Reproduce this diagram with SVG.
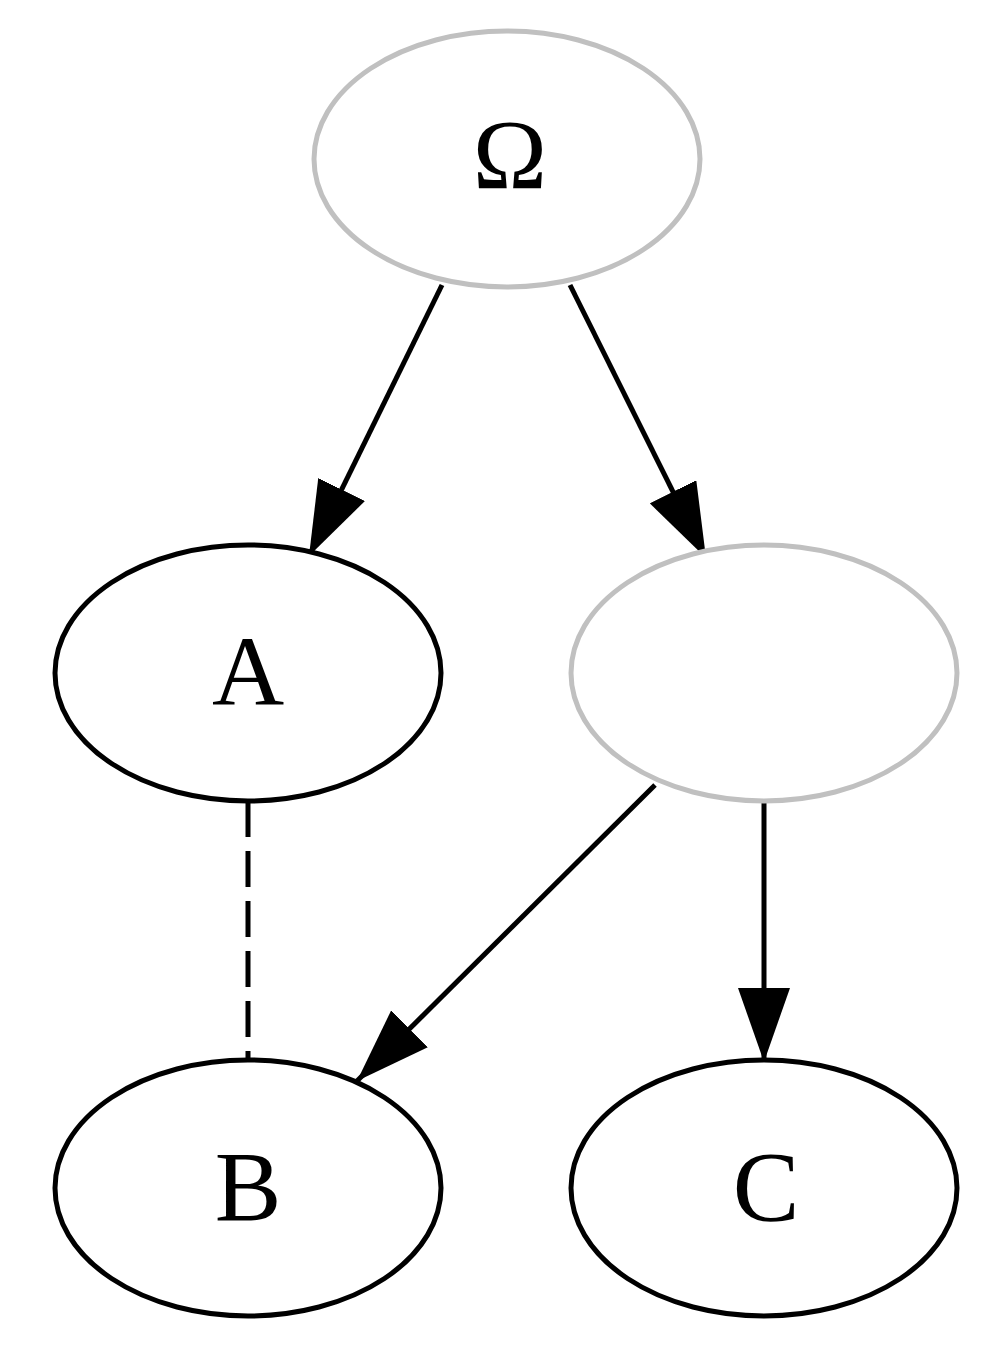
<svg xmlns="http://www.w3.org/2000/svg" width="1000" height="1361" viewBox="0 0 1000 1361">
<style>
.node ellipse{fill:#fff;stroke:#000;stroke-width:5}
.node.ghost ellipse{stroke:#c0c0c0}
.node text{font-family:"Liberation Serif","Times New Roman",serif;font-size:100px;text-anchor:middle;fill:#000}
.edge{stroke:#000;stroke-width:5;fill:none}
.arrow{marker-end:url(#ah)}
.dashed{stroke-dasharray:36 14}
</style>
<defs>
<marker id="ah" viewBox="0 0 74 52" refX="74" refY="26" markerWidth="74" markerHeight="52" markerUnits="userSpaceOnUse" orient="auto">
<path d="M0,0 L74,26 L0,52 Z" fill="#000"/>
</marker>
</defs>
<rect width="1000" height="1361" fill="#fff"/>
<g id="connectors">
<line class="edge arrow" x1="442" y1="285" x2="309" y2="556"/>
<line class="edge arrow" x1="570" y1="285" x2="706" y2="558"/>
<line class="edge arrow" x1="655" y1="785" x2="357" y2="1081"/>
<line class="edge arrow" x1="764" y1="803" x2="764" y2="1062"/>
<line class="edge dashed" x1="248" y1="801" x2="248" y2="1060"/>
</g>
<g id="omega" class="node ghost"><ellipse cx="507" cy="159" rx="193" ry="128"/><text x="510" y="188">Ω</text></g>
<g id="A" class="node"><ellipse cx="248" cy="673" rx="193" ry="128"/><text x="248" y="705">A</text></g>
<g id="hidden" class="node ghost"><ellipse cx="764" cy="673" rx="193" ry="128"/></g>
<g id="B" class="node"><ellipse cx="248" cy="1188" rx="193" ry="128"/><text x="248" y="1220">B</text></g>
<g id="C" class="node"><ellipse cx="764" cy="1188" rx="193" ry="128"/><text x="766" y="1220">C</text></g>
</svg>
